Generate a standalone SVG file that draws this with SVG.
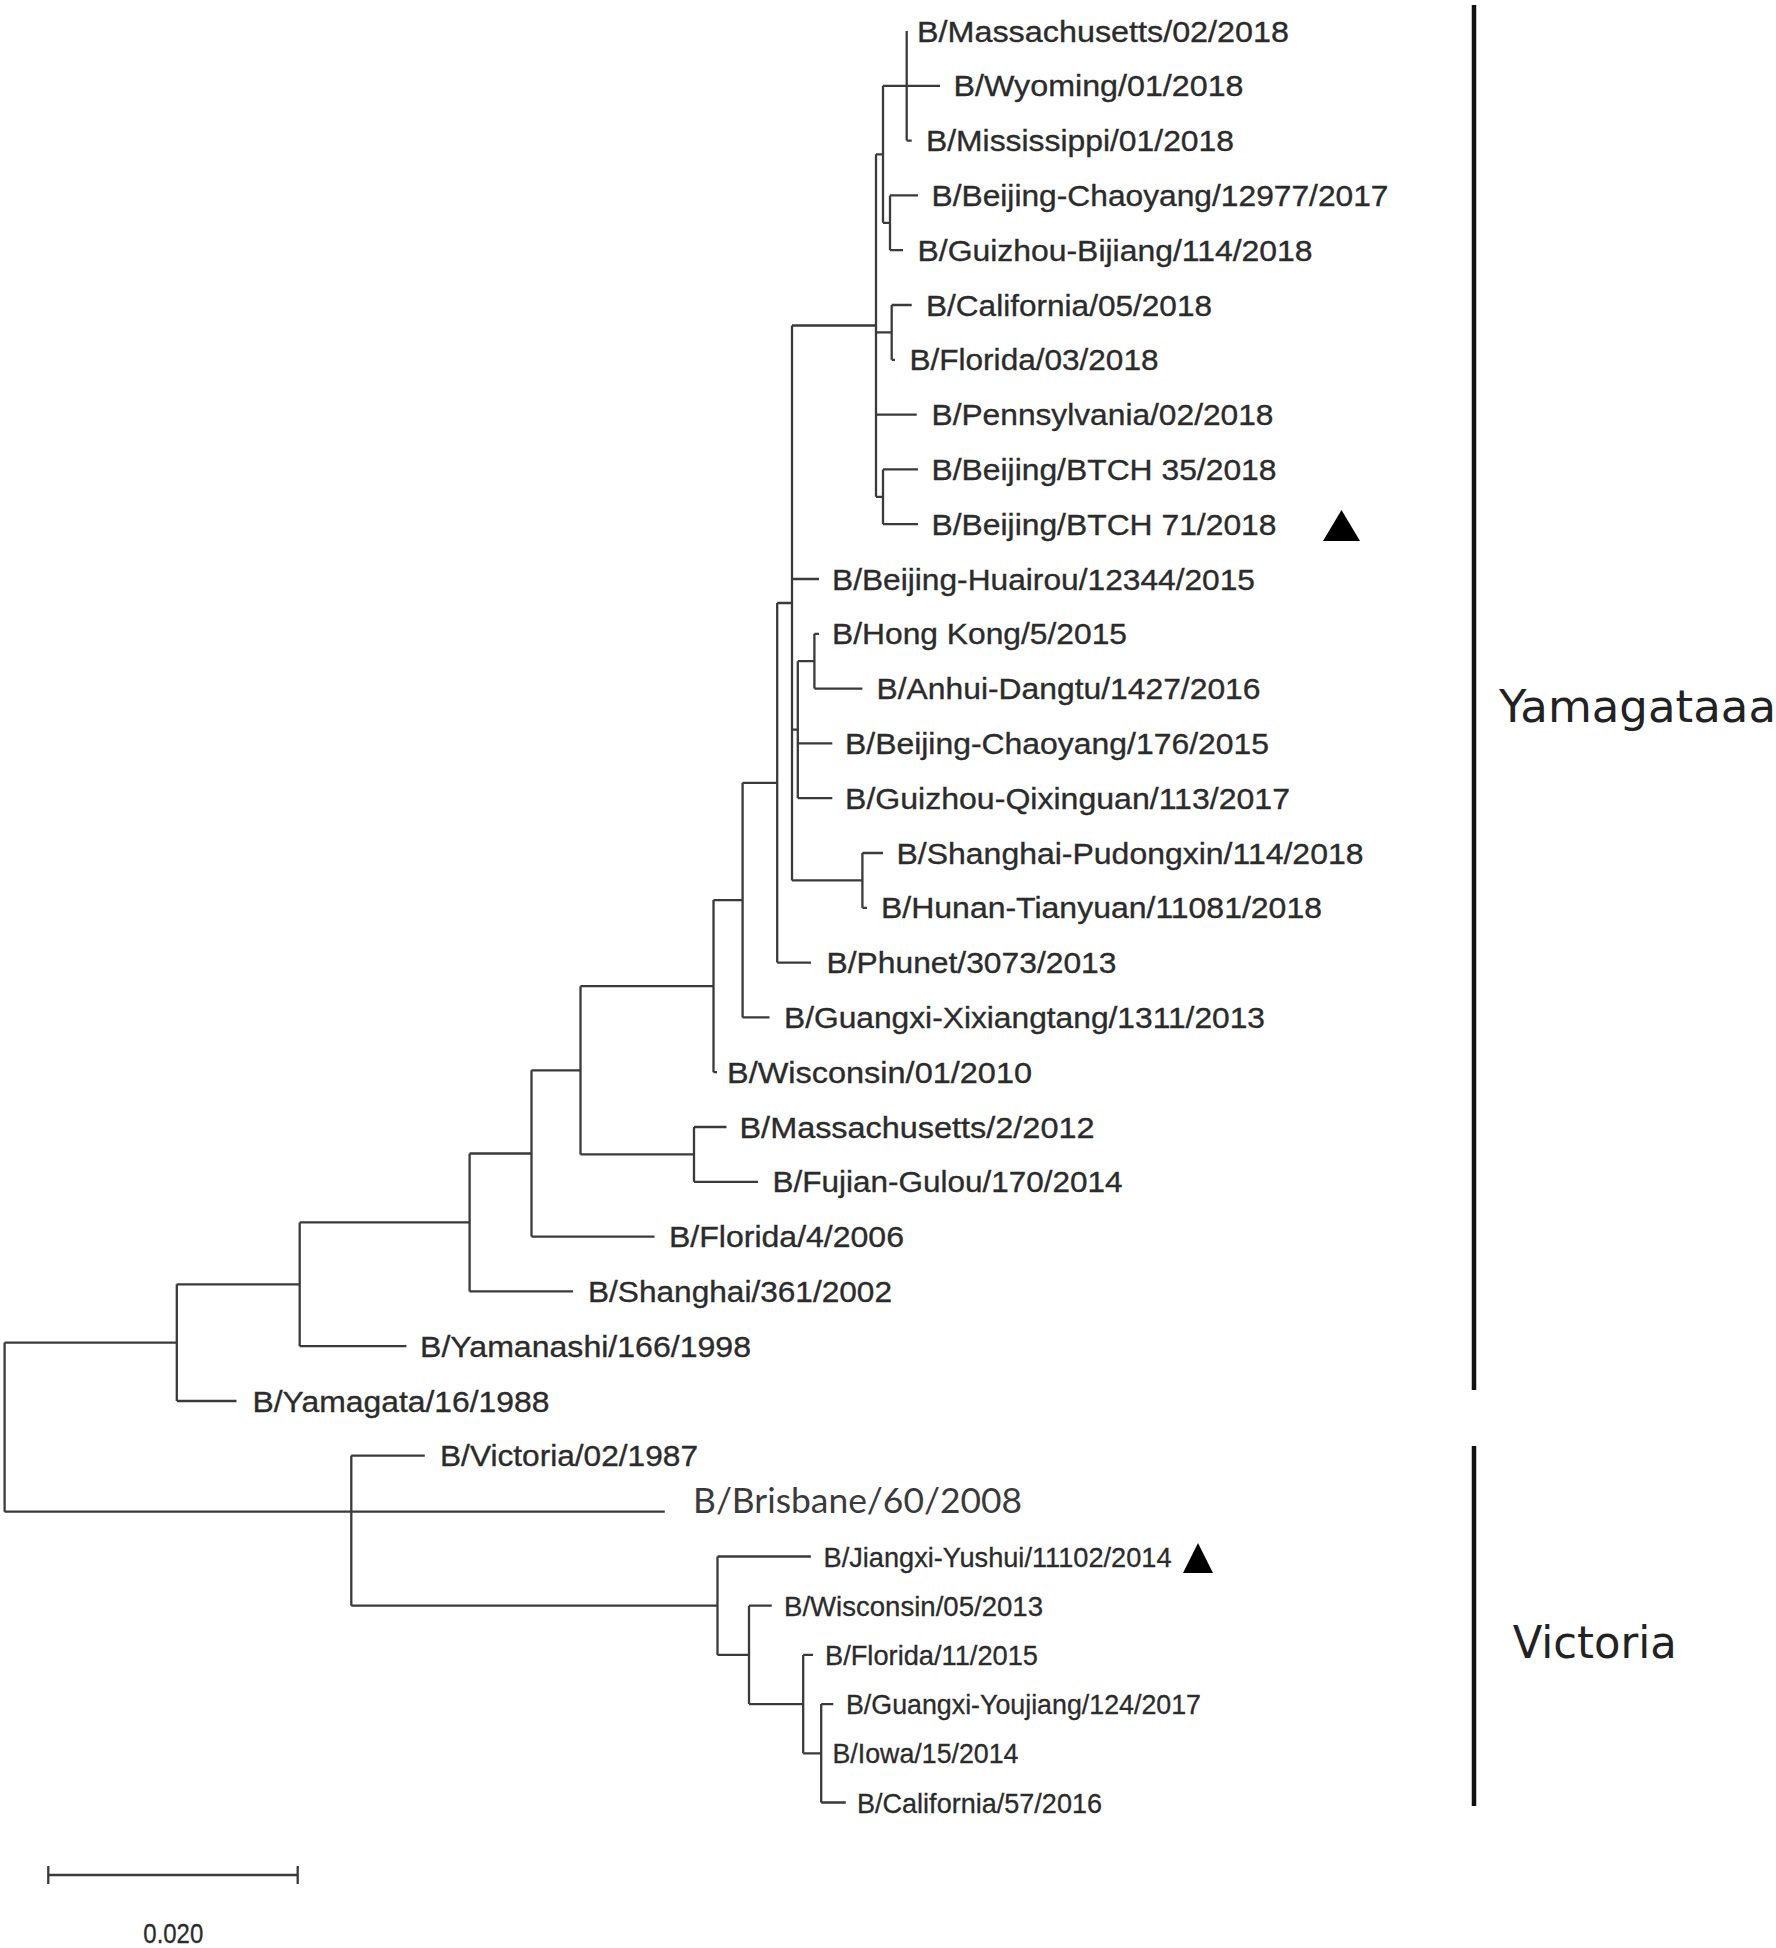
<svg xmlns="http://www.w3.org/2000/svg" width="1776" height="1948" viewBox="0 0 1776 1948">
<style>
  .br { fill: none; stroke: #3a3a3a; stroke-width: 2.3; }
  .lb { font-family: "Liberation Sans", Arial, sans-serif; font-size: 30px; fill: #2b2b2b; stroke: #2b2b2b; stroke-width: 0.35; }
  .ls { font-family: "Liberation Sans", Arial, sans-serif; font-size: 27.5px; fill: #2b2b2b; stroke: #2b2b2b; stroke-width: 0.3; }
  .lc { font-family: Lato, "Open Sans", sans-serif; font-size: 34px; fill: #3a3a3a; }
  .grp { font-family: "DejaVu Sans", Verdana, sans-serif; font-size: 44px; fill: #222; }
  .bar { stroke: #111; stroke-width: 4.5; }
  .mark { fill: #000; }
</style>
<rect width="1776" height="1948" fill="#fff"/>
<g id="connectors">
  <path class="br" d="M906.7 31 V140.6 M906.7 85.8 H940 M906.7 140.6 H911.7
    M890 195.4 V250.2 M890 195.4 H918 M890 250.2 H903
    M883 85.8 V222.8 M883 85.8 H906.7 M883 222.8 H890
    M891.7 305 V359.8 M891.7 305 H911.7 M891.7 359.8 H895
    M883 469.4 V524.2 M883 469.4 H918 M883 524.2 H918
    M876 154.3 V496.8 M876 154.3 H883 M876 332.4 H891.7 M876 414.6 H916.7 M876 496.8 H883
    M814.4 633.8 V688.6 M814.4 633.8 H819 M814.4 688.6 H862.4
    M797.8 661.2 V798.2 M797.8 661.2 H814.4 M797.8 743.4 H832.3 M797.8 798.2 H832.3
    M862.4 853 V907.8 M862.4 853 H883 M862.4 907.8 H867
    M792 325.5 V880.4 M792 325.5 H876 M792 579 H819 M792 729.7 H797.8 M792 880.4 H862.4
    M777.2 603 V962.6 M777.2 603 H792 M777.2 962.6 H811
    M742.6 782.8 V1017.4 M742.6 782.8 H777.2 M742.6 1017.4 H769.5
    M713.5 900.1 V1072.2 M713.5 900.1 H742.6 M713.5 1072.2 H717
    M694 1127 V1181.8 M694 1127 H726.5 M694 1181.8 H758
    M580.5 986.2 V1154.4 M580.5 986.2 H713.5 M580.5 1154.4 H694
    M531.5 1070.3 V1236.6 M531.5 1070.3 H580.5 M531.5 1236.6 H654.5
    M469.6 1153.5 V1291.4 M469.6 1153.5 H531.5 M469.6 1291.4 H573
    M299.7 1222.4 V1346.2 M299.7 1222.4 H469.6 M299.7 1346.2 H406.4
    M176.8 1284.3 V1401 M176.8 1284.3 H299.7 M176.8 1401 H236.5
    M4.6 1342.6 V1511.7 M4.6 1342.6 H176.8 M4.6 1511.7 H664.8
    M351.3 1455.6 V1605.7 M351.3 1455.6 H424.8 M351.3 1605.7 H717.5
    M717.5 1556.5 V1654.9 M717.5 1556.5 H810.9 M717.5 1654.9 H749
    M749 1605.7 V1704.1 M749 1605.7 H771.8 M749 1704.1 H803.2
    M803.2 1654.9 V1753.3 M803.2 1654.9 H813 M803.2 1753.3 H821.2
    M821.2 1704.1 V1802.5 M821.2 1704.1 H833.3 M821.2 1802.5 H845.8"/>
</g>
<g id="taxa">
  <g id="t01"><text class="lb" x="917" y="41.5" textLength="372" lengthAdjust="spacingAndGlyphs">B/Massachusetts/02/2018</text></g>
  <g id="t02"><text class="lb" x="953.5" y="96.3" textLength="290" lengthAdjust="spacingAndGlyphs">B/Wyoming/01/2018</text></g>
  <g id="t03"><text class="lb" x="926" y="151.1" textLength="308" lengthAdjust="spacingAndGlyphs">B/Mississippi/01/2018</text></g>
  <g id="t04"><text class="lb" x="931.5" y="205.9" textLength="457" lengthAdjust="spacingAndGlyphs">B/Beijing-Chaoyang/12977/2017</text></g>
  <g id="t05"><text class="lb" x="917.5" y="260.7" textLength="395" lengthAdjust="spacingAndGlyphs">B/Guizhou-Bijiang/114/2018</text></g>
  <g id="t06"><text class="lb" x="926" y="315.5" textLength="286" lengthAdjust="spacingAndGlyphs">B/California/05/2018</text></g>
  <g id="t07"><text class="lb" x="909.5" y="370.3" textLength="249" lengthAdjust="spacingAndGlyphs">B/Florida/03/2018</text></g>
  <g id="t08"><text class="lb" x="931.5" y="425.1" textLength="342" lengthAdjust="spacingAndGlyphs">B/Pennsylvania/02/2018</text></g>
  <g id="t09"><text class="lb" x="931.5" y="479.9" textLength="345" lengthAdjust="spacingAndGlyphs">B/Beijing/BTCH 35/2018</text></g>
  <g id="t10"><text class="lb" x="931.5" y="534.7" textLength="345" lengthAdjust="spacingAndGlyphs">B/Beijing/BTCH 71/2018</text>
    <polygon class="mark" points="1323,541 1360,541 1341.5,510"/></g>
  <g id="t11"><text class="lb" x="832" y="589.5" textLength="423" lengthAdjust="spacingAndGlyphs">B/Beijing-Huairou/12344/2015</text></g>
  <g id="t12"><text class="lb" x="832" y="644.3" textLength="295" lengthAdjust="spacingAndGlyphs">B/Hong Kong/5/2015</text></g>
  <g id="t13"><text class="lb" x="876.5" y="699.1" textLength="384" lengthAdjust="spacingAndGlyphs">B/Anhui-Dangtu/1427/2016</text></g>
  <g id="t14"><text class="lb" x="845" y="753.9" textLength="424" lengthAdjust="spacingAndGlyphs">B/Beijing-Chaoyang/176/2015</text></g>
  <g id="t15"><text class="lb" x="845" y="808.7" textLength="445" lengthAdjust="spacingAndGlyphs">B/Guizhou-Qixinguan/113/2017</text></g>
  <g id="t16"><text class="lb" x="896.5" y="863.5" textLength="467" lengthAdjust="spacingAndGlyphs">B/Shanghai-Pudongxin/114/2018</text></g>
  <g id="t17"><text class="lb" x="881" y="918.3" textLength="441" lengthAdjust="spacingAndGlyphs">B/Hunan-Tianyuan/11081/2018</text></g>
  <g id="t18"><text class="lb" x="826.5" y="973.1" textLength="290" lengthAdjust="spacingAndGlyphs">B/Phunet/3073/2013</text></g>
  <g id="t19"><text class="lb" x="784" y="1027.9" textLength="481" lengthAdjust="spacingAndGlyphs">B/Guangxi-Xixiangtang/1311/2013</text></g>
  <g id="t20"><text class="lb" x="727" y="1082.7" textLength="305" lengthAdjust="spacingAndGlyphs">B/Wisconsin/01/2010</text></g>
  <g id="t21"><text class="lb" x="739.5" y="1137.5" textLength="355" lengthAdjust="spacingAndGlyphs">B/Massachusetts/2/2012</text></g>
  <g id="t22"><text class="lb" x="772.5" y="1192.3" textLength="350" lengthAdjust="spacingAndGlyphs">B/Fujian-Gulou/170/2014</text></g>
  <g id="t23"><text class="lb" x="669" y="1247.1" textLength="235" lengthAdjust="spacingAndGlyphs">B/Florida/4/2006</text></g>
  <g id="t24"><text class="lb" x="588" y="1301.9" textLength="304" lengthAdjust="spacingAndGlyphs">B/Shanghai/361/2002</text></g>
  <g id="t25"><text class="lb" x="420" y="1356.7" textLength="331" lengthAdjust="spacingAndGlyphs">B/Yamanashi/166/1998</text></g>
  <g id="t26"><text class="lb" x="252.5" y="1411.5" textLength="297" lengthAdjust="spacingAndGlyphs">B/Yamagata/16/1988</text></g>
  <g id="t27"><text class="lb" x="440" y="1466.1" textLength="258" lengthAdjust="spacingAndGlyphs">B/Victoria/02/1987</text></g>
  <g id="t28"><text class="lc" x="693" y="1513" textLength="329" lengthAdjust="spacingAndGlyphs">B/Brisbane/60/2008</text></g>
  <g id="t29"><text class="ls" x="823.5" y="1566.5" textLength="348" lengthAdjust="spacingAndGlyphs">B/Jiangxi-Yushui/11102/2014</text>
    <polygon class="mark" points="1183,1573 1213,1573 1198,1543"/></g>
  <g id="t30"><text class="ls" x="784" y="1615.7" textLength="259" lengthAdjust="spacingAndGlyphs">B/Wisconsin/05/2013</text></g>
  <g id="t31"><text class="ls" x="825" y="1664.9" textLength="213" lengthAdjust="spacingAndGlyphs">B/Florida/11/2015</text></g>
  <g id="t32"><text class="ls" x="846" y="1714.1" textLength="355" lengthAdjust="spacingAndGlyphs">B/Guangxi-Youjiang/124/2017</text></g>
  <g id="t33"><text class="ls" x="832.5" y="1763.3" textLength="186" lengthAdjust="spacingAndGlyphs">B/Iowa/15/2014</text></g>
  <g id="t34"><text class="ls" x="857" y="1812.5" textLength="245" lengthAdjust="spacingAndGlyphs">B/California/57/2016</text></g>
</g>
<g id="clade-yamagata">
  <line class="bar" x1="1474" y1="5" x2="1474" y2="1390"/>
  <text class="grp" x="1499" y="721.7" textLength="277" lengthAdjust="spacingAndGlyphs">Yamagataaa</text>
</g>
<g id="clade-victoria">
  <line class="bar" x1="1474" y1="1446" x2="1474" y2="1806"/>
  <text class="grp" x="1512.7" y="1658.3" textLength="164" lengthAdjust="spacingAndGlyphs">Victoria</text>
</g>
<g id="scale">
  <path class="br" d="M48.3 1875 H297.7 M48.3 1866 V1884 M297.7 1866 V1884"/>
  <text class="ls" x="143.3" y="1943" textLength="60" lengthAdjust="spacingAndGlyphs">0.020</text>
</g>
</svg>
